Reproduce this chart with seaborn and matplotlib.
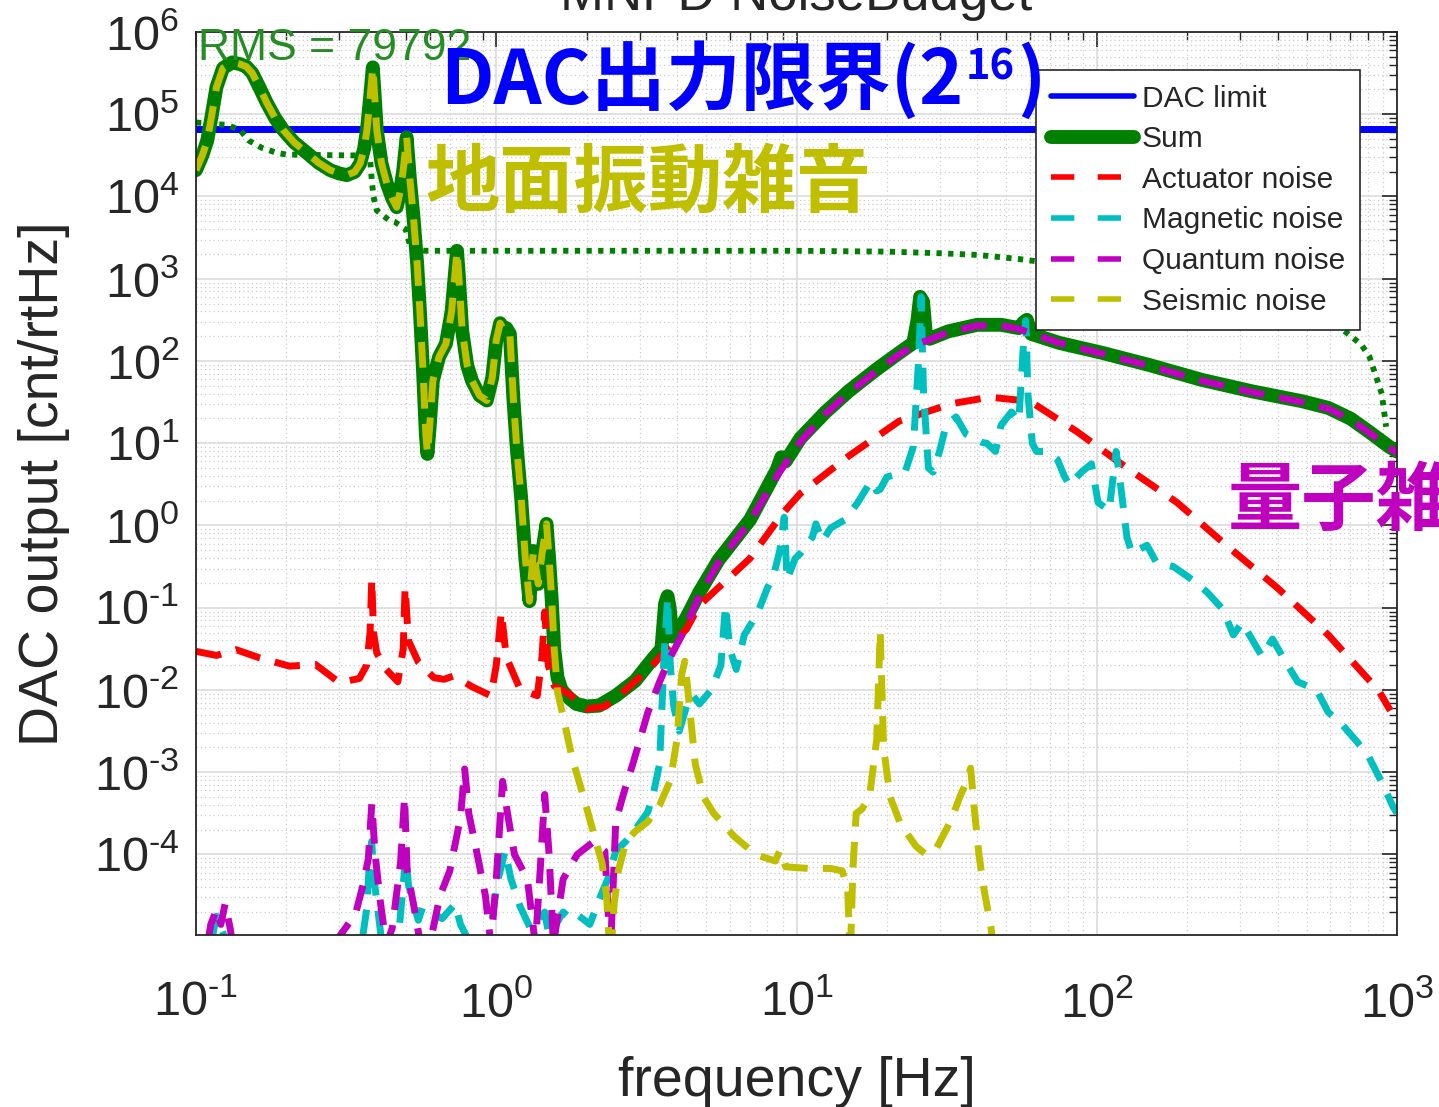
import numpy as np
import pandas as pd
import matplotlib
matplotlib.use("Agg")
import matplotlib.pyplot as plt
from matplotlib.lines import Line2D
from matplotlib.ticker import LogLocator, NullFormatter, FuncFormatter
import seaborn as sns

# ---------------- data (frequency in Hz, level as log10 of cnt/rtHz) ----------------
dac_limit = 65536
rms_value = 79792
x_range = [0.1, 1000.0]

sum_f = [0.100, 0.105, 0.109, 0.113, 0.117, 0.123, 0.132, 0.140, 0.147, 0.154,
         0.163, 0.172, 0.183, 0.195, 0.212, 0.234, 0.256, 0.280, 0.300, 0.318,
         0.338, 0.352, 0.363, 0.371, 0.380, 0.388, 0.394, 0.400, 0.415, 0.432,
         0.450, 0.466, 0.478, 0.490, 0.503, 0.516, 0.530, 0.545, 0.557, 0.570,
         0.583, 0.590, 0.600, 0.615, 0.645, 0.680, 0.710, 0.730, 0.740, 0.750,
         0.770, 0.800, 0.830, 0.880, 0.930, 0.970, 1.000, 1.030, 1.060, 1.080,
         1.110, 1.140, 1.170, 1.210, 1.250, 1.290, 1.310, 1.330, 1.360, 1.380,
         1.420, 1.470, 1.500, 1.530, 1.560, 1.600, 1.650, 1.750, 1.850, 2.000,
         2.200, 2.500, 2.900, 3.340, 3.550, 3.650, 3.720, 3.780, 3.850, 4.000,
         4.300, 4.750, 5.500, 7.000, 8.600, 8.900, 9.200, 10.30, 12.50, 15.00,
         18.50, 22.00, 24.50, 25.30, 25.80, 26.40, 27.00, 27.80, 32.00, 40.00,
         48.00, 55.00, 57.00, 58.50, 60.50, 75.00, 104.0, 150.0, 224.0, 330.0,
         484.0, 590.0, 700.0, 800.0, 940.0, 1000.0]
sum_lg = [4.32, 4.50, 4.68, 5.00, 5.33, 5.56, 5.63, 5.61, 5.58, 5.50,
          5.32, 5.14, 4.96, 4.81, 4.66, 4.53, 4.41, 4.32, 4.28, 4.26,
          4.30, 4.40, 4.58, 4.81, 5.20, 5.57, 5.20, 4.81, 4.40, 4.16,
          3.98, 3.87, 4.05, 4.32, 4.72, 4.20, 3.75, 3.19, 2.60, 1.90,
          1.10, 0.87, 1.20, 1.76, 2.05, 2.21, 2.60, 3.10, 3.34, 3.05,
          2.37, 1.95, 1.76, 1.58, 1.52, 1.80, 2.25, 2.46, 2.38, 2.40,
          2.33, 1.55, 0.95, 0.34, -0.40, -0.92, -0.60, -0.31, -0.55, -0.71,
          -0.35, 0.02, -0.40, -0.90, -1.50, -1.85, -2.00, -2.10, -2.17, -2.20,
          -2.19, -2.07, -1.89, -1.61, -1.50, -0.95, -0.86, -1.00, -1.35, -1.30,
          -1.12, -0.81, -0.42, 0.07, 0.68, 0.83, 0.78, 1.06, 1.38, 1.64,
          1.90, 2.10, 2.22, 2.50, 2.78, 2.72, 2.30, 2.27, 2.36, 2.44,
          2.44, 2.40, 2.47, 2.50, 2.33, 2.22, 2.10, 1.95, 1.77, 1.63,
          1.51, 1.43, 1.30, 1.15, 0.96, 0.90]

act_f = [0.100, 0.117, 0.136, 0.163, 0.205, 0.250, 0.300, 0.350, 0.370, 0.380,
         0.385, 0.390, 0.400, 0.430, 0.470, 0.490, 0.497, 0.510, 0.550, 0.620,
         0.670, 0.720, 0.780, 0.830, 0.960, 1.000, 1.040, 1.080, 1.200, 1.370,
         1.420, 1.450, 1.490, 1.560, 1.750, 2.000, 2.300, 2.600, 3.300, 3.700,
         4.300, 4.750, 7.000, 9.000, 10.30, 15.00, 22.00, 32.70, 44.00, 60.00,
         86.00, 126.0, 185.0, 270.0, 400.0, 590.0, 870.0, 950.0]
act_lg = [-1.53, -1.58, -1.51, -1.61, -1.71, -1.69, -1.91, -1.86, -1.70, -1.30,
          -0.65, -1.30, -1.55, -1.75, -1.90, -1.50, -0.75, -1.40, -1.66, -1.85,
          -1.87, -1.83, -1.90, -1.96, -2.07, -1.70, -1.05, -1.60, -1.99, -2.07,
          -1.60, -1.05, -1.70, -1.95, -2.05, -2.23, -2.20, -2.05, -1.71, -1.50,
          -1.26, -0.97, -0.40, 0.15, 0.39, 0.85, 1.27, 1.48, 1.56, 1.51,
          1.14, 0.70, 0.28, -0.24, -0.76, -1.33, -2.01, -2.25]

mag_f = [0.100, 0.112, 0.117, 0.123, 0.130, 0.330, 0.360, 0.370, 0.380, 0.385,
         0.390, 0.400, 0.420, 0.470, 0.500, 0.510, 0.550, 0.570, 0.620, 0.660,
         0.730, 0.760, 0.850, 0.950, 1.010, 1.070, 1.120, 1.200, 1.300, 1.450,
         1.500, 1.670, 1.770, 1.860, 2.050, 2.200, 2.350, 2.500, 2.700, 2.900,
         3.200, 3.350, 3.500, 3.620, 3.720, 3.800, 3.900, 4.070, 4.300, 4.500,
         4.750, 5.200, 5.600, 5.800, 6.000, 6.300, 6.700, 7.100, 7.500, 8.000,
         8.400, 8.800, 9.100, 9.300, 9.900, 10.30, 11.30, 11.60, 12.20, 13.00,
         14.50, 16.00, 17.70, 18.50, 19.00, 20.00, 23.00, 24.50, 25.50, 26.00,
         26.50, 27.50, 28.50, 30.00, 31.50, 34.00, 36.70, 41.50, 43.00, 46.00,
         48.00, 52.00, 55.00, 57.00, 58.00, 59.00, 61.00, 63.00, 68.00, 74.00,
         78.00, 81.00, 89.00, 96.00, 101.0, 110.0, 116.0, 120.0, 126.0, 131.0,
         147.0, 158.0, 180.0, 208.0, 233.0, 263.0, 285.0, 305.0, 355.0, 385.0,
         415.0, 467.0, 540.0, 590.0, 660.0, 740.0, 800.0, 900.0, 970.0, 1000.0]
mag_lg = [-5.50, -5.10, -4.75, -4.95, -5.40, -5.50, -4.97, -4.67, -3.96, -3.84,
          -4.24, -4.57, -5.20, -5.10, -4.00, -4.37, -4.80, -4.63, -4.72, -4.78,
          -4.60, -4.85, -5.20, -5.00, -4.33, -3.96, -4.30, -4.63, -4.90, -4.70,
          -5.00, -4.70, -4.78, -4.73, -4.85, -4.55, -4.30, -3.96, -3.84, -3.70,
          -3.48, -3.23, -2.90, -1.60, -0.88, -1.70, -2.20, -2.50, -2.20, -2.06,
          -2.17, -2.00, -1.70, -0.97, -1.50, -1.75, -1.33, -1.18, -1.02, -0.76,
          -0.60, -0.30, 0.10, -0.66, -0.40, -0.34, -0.14, 0.02, -0.19, -0.03,
          0.07, 0.28, 0.54, 0.42, 0.44, 0.59, 0.65, 0.96, 2.00, 2.78,
          1.60, 0.70, 0.65, 0.91, 1.22, 1.32, 1.11, 1.01, 1.00, 0.90,
          1.22, 1.38, 1.27, 2.20, 2.49, 1.60, 1.00, 0.90, 0.90, 0.80,
          0.60, 0.49, 0.65, 0.75, 0.28, 0.18, 0.90, 0.50, -0.14, -0.34,
          -0.24, -0.45, -0.50, -0.66, -0.81, -1.02, -1.33, -1.18, -1.59, -1.38,
          -1.59, -1.90, -2.00, -2.27, -2.43, -2.64, -2.79, -3.16, -3.42, -3.50]

qnt_f = [0.100, 0.108, 0.112, 0.117, 0.121, 0.125, 0.130, 0.135, 0.250, 0.300,
         0.340, 0.360, 0.375, 0.385, 0.395, 0.410, 0.430, 0.450, 0.480, 0.495,
         0.505, 0.530, 0.560, 0.600, 0.650, 0.700, 0.760, 0.785, 0.810, 0.860,
         0.920, 0.960, 1.000, 1.050, 1.090, 1.150, 1.270, 1.350, 1.400, 1.450,
         1.500, 1.550, 1.670, 1.860, 2.100, 2.300, 2.400, 2.500, 2.650, 2.850,
         3.000, 3.200, 3.500, 3.800, 4.200, 4.750, 5.500, 7.000, 8.600, 10.30,
         12.50, 15.00, 18.50, 22.00, 25.00, 27.80, 32.00, 40.00, 48.00, 55.00,
         60.00, 75.00, 104.0, 150.0, 224.0, 330.0, 484.0, 590.0, 700.0, 800.0,
         940.0, 1000.0]
qnt_lg = [-5.50, -5.20, -4.85, -4.67, -4.85, -4.60, -4.90, -5.30, -5.50, -5.00,
          -4.72, -4.37, -4.05, -3.38, -4.00, -4.54, -5.10, -4.90, -4.10, -3.30,
          -4.20, -4.60, -5.10, -5.10, -4.50, -4.20, -3.55, -2.96, -3.50, -3.96,
          -4.50, -5.10, -4.30, -3.11, -3.50, -4.00, -4.30, -5.10, -4.20, -3.27,
          -4.00, -5.10, -4.30, -4.00, -3.85, -3.96, -5.20, -3.60, -3.27, -2.90,
          -2.62, -2.27, -1.90, -1.60, -1.30, -0.85, -0.45, 0.05, 0.60, 1.02,
          1.36, 1.62, 1.88, 2.08, 2.20, 2.26, 2.35, 2.43, 2.43, 2.39,
          2.34, 2.22, 2.09, 1.94, 1.76, 1.62, 1.50, 1.42, 1.29, 1.14,
          0.95, 0.88]

# seismic noise: identical to the sum below ~1.55 Hz, then its own branch
seis_hi_f = [1.560, 1.600, 1.700, 1.790, 1.900, 2.020, 2.150, 2.250, 2.330, 2.400,
             2.470, 2.550, 2.700, 2.900, 3.200, 3.500, 3.800, 4.000, 4.150, 4.250,
             4.400, 4.600, 4.900, 5.300, 6.200, 7.300, 8.500, 8.800, 9.200, 11.00,
             13.00, 14.20, 14.80, 15.10, 15.40, 15.80, 16.50, 17.50, 18.50, 19.00,
             19.50, 20.50, 22.20, 25.00, 27.00, 29.00, 31.00, 33.00, 35.00, 37.00,
             38.00, 39.00, 40.50, 42.00, 44.50, 46.00]
seis_hi_lg = [-1.50, -2.02, -2.45, -2.83, -3.15, -3.49, -3.85, -4.10, -4.50, -5.30,
              -4.60, -4.20, -3.85, -3.72, -3.60, -3.40, -3.10, -2.60, -1.80, -1.65,
              -2.20, -2.90, -3.30, -3.50, -3.78, -4.00, -4.08, -3.95, -4.15, -4.17,
              -4.17, -4.20, -4.40, -5.30, -4.20, -3.50, -3.45, -3.30, -2.60, -1.28,
              -2.70, -3.30, -3.63, -3.90, -4.00, -3.95, -3.75, -3.55, -3.30, -3.10,
              -2.95, -3.40, -4.00, -4.40, -4.90, -5.50]
seis_f = sum_f[:74] + seis_hi_f
seis_lg = sum_lg[:74] + seis_hi_lg

rms_f = [0.100, 0.127, 0.140, 0.150, 0.166, 0.186, 0.200, 0.320, 0.360, 0.380,
         0.385, 0.390, 0.400, 0.440, 0.460, 0.500, 0.520, 0.580, 1.000, 10.00,
         20.00, 30.00, 40.00, 55.00, 100.0, 200.0, 400.0, 640.0, 760.0, 810.0,
         890.0, 920.0]
rms_lg = [4.90, 4.87, 4.81, 4.68, 4.59, 4.53, 4.51, 4.50, 4.50, 4.45,
          4.20, 4.00, 3.83, 3.71, 3.69, 3.60, 3.36, 3.34, 3.34, 3.34,
          3.33, 3.31, 3.29, 3.24, 3.12, 3.00, 2.80, 2.42, 2.20, 2.05,
          1.60, 1.20]

legend_labels = ["DAC limit", "Sum", "Actuator noise", "Magnetic noise",
                 "Quantum noise", "Seismic noise"]

# ---------------- styling ----------------
sns.set_theme(style="white")
plt.rcParams['font.family'] = ['Liberation Sans', 'Noto Sans CJK JP', 'DejaVu Sans']
plt.rcParams['mathtext.fontset'] = 'custom'
plt.rcParams['mathtext.rm'] = 'Liberation Sans'
plt.rcParams['mathtext.it'] = 'Liberation Sans:italic'
plt.rcParams['mathtext.bf'] = 'Liberation Sans:bold'
plt.rcParams['axes.unicode_minus'] = False

C_BLUE = (0.0, 0.0, 1.0)
C_GREEN = (0.0, 0.5, 0.0)
C_RED = (1.0, 0.0, 0.0)
C_CYAN = (0.0, 0.75, 0.75)
C_MAG = (0.75, 0.0, 0.75)
C_YEL = (0.75, 0.75, 0.0)
C_AX = '#262626'

W, H = 1439, 1107
fig = plt.figure(figsize=(W / 100, H / 100), dpi=100)
fig.patch.set_facecolor('white')
ax = fig.add_axes([196 / W, 1 - 935 / H, 1201 / W, 903 / H])
ax.set_xscale('log')
ax.set_yscale('log')


def draw(f, lg, color, lw, dashes=None, zorder=2):
    df = pd.DataFrame({'f': f, 'v': 10.0 ** np.asarray(lg, dtype=float)})
    sns.lineplot(data=df, x='f', y='v', ax=ax, estimator=None, sort=False,
                 legend=False, color=color, lw=lw, zorder=zorder)
    ln = ax.lines[-1]
    ln.set_solid_joinstyle('round')
    ln.set_solid_capstyle('round')
    if dashes is not None:
        ln.set_dashes(dashes)
        ln.set_dash_capstyle('butt')
    return ln


DASH = (3.7, 2.2)
draw(x_range, [np.log10(dac_limit)] * 2, C_BLUE, 5.0, zorder=2)
draw(rms_f, rms_lg, C_GREEN, 4.2, dashes=(0.9, 1.1), zorder=2.5)
draw(sum_f, sum_lg, C_GREEN, 10.0, zorder=3)
draw(act_f, act_lg, C_RED, 5.0, dashes=DASH, zorder=4)
draw(mag_f, mag_lg, C_CYAN, 5.0, dashes=DASH, zorder=5)
draw(qnt_f, qnt_lg, C_MAG, 5.0, dashes=DASH, zorder=6)
draw(seis_f, seis_lg, C_YEL, 5.0, dashes=DASH, zorder=7)

ax.set_xlim(0.1, 1000)
ax.set_ylim(1.05e-5, 1e6)


def decade_label(v, pos):
    e = int(round(np.log10(v)))
    if e < 0:
        return r'$\mathdefault{10^{\text{-}%d}}$' % abs(e)
    return r'$\mathdefault{10^{%d}}$' % e


ax.xaxis.set_major_locator(LogLocator(base=10, numticks=20))
ax.yaxis.set_major_locator(LogLocator(base=10, numticks=30))
ax.xaxis.set_minor_locator(LogLocator(base=10, subs=np.arange(2, 10), numticks=100))
ax.yaxis.set_minor_locator(LogLocator(base=10, subs=np.arange(2, 10), numticks=200))
ax.xaxis.set_major_formatter(FuncFormatter(decade_label))
ax.yaxis.set_major_formatter(FuncFormatter(decade_label))
ax.xaxis.set_minor_formatter(NullFormatter())
ax.yaxis.set_minor_formatter(NullFormatter())

ax.set_axisbelow(True)
ax.grid(True, which='major', color='#dcdcdc', lw=1.2, ls='-')
ax.grid(True, which='minor', color='#cccccc', lw=0.9, ls=(0, (1, 2.4)))
for s in ax.spines.values():
    s.set_color(C_AX)
    s.set_linewidth(1.3)
    s.set_zorder(10)
ax.tick_params(which='both', direction='in', top=True, right=True,
               color=C_AX, labelcolor=C_AX)
ax.tick_params(which='major', length=11, width=1.2, labelsize=35)
ax.tick_params(which='minor', length=5.5, width=1.0)
ax.tick_params(axis='x', which='major', pad=33)
ax.tick_params(axis='y', which='major', pad=12)

ax.set_xlabel('frequency [Hz]', fontsize=40, color=C_AX)
ax.set_ylabel('DAC output [cnt/rtHz]', fontsize=40, color=C_AX)
ax.xaxis.set_label_coords(0.5, (935 - 1056) / 903)
ax.xaxis.label.set_va('top')
ax.yaxis.set_label_coords((70 - 196) / 1201, 0.5)

# legend (MATLAB-like dashed handles)
proxies = [
    Line2D([], [], color=C_BLUE, lw=4.0),
    Line2D([], [], color=C_GREEN, lw=10.0),
    Line2D([], [], color=C_RED, lw=4.0, dashes=(4.2, 4.2)),
    Line2D([], [], color=C_CYAN, lw=4.0, dashes=(4.2, 4.2)),
    Line2D([], [], color=C_MAG, lw=4.0, dashes=(4.2, 4.2)),
    Line2D([], [], color=C_YEL, lw=4.0, dashes=(4.2, 4.2)),
]
leg = ax.legend(proxies, legend_labels, loc='upper right',
                bbox_to_anchor=(0.969, 0.958), fontsize=21.5, frameon=True,
                fancybox=False, framealpha=1, edgecolor=C_AX,
                borderpad=0.5, labelspacing=0.42, handlelength=2.75,
                handletextpad=0.27, borderaxespad=0)
leg.get_frame().set_linewidth(1.2)
leg.set_zorder(20)
for t in leg.get_texts():
    t.set_color(C_AX)

# title (cut off at the top of the image, as in the original)
fig.text(796 / W, 1 - 10 / H, 'MNPD NoiseBudget', fontsize=38, color=C_AX,
         ha='center', va='baseline')

# annotations
fig.text(198 / W, 1 - 60 / H, f'RMS = {rms_value}', fontsize=32,
         color=(0.15, 0.55, 0.15), ha='left', va='baseline', zorder=30)

cjk = ['Noto Sans CJK JP']
t_dac = fig.text(440 / W, 1 - 104 / H, 'DAC出力限界(2', fontsize=54,
                 fontweight='bold', family=cjk, color=C_BLUE,
                 ha='left', va='baseline', zorder=30)
fig.canvas.draw()
bb = t_dac.get_window_extent(fig.canvas.get_renderer())
t_sup = fig.text(bb.x1 / W + 2 / W, 1 - 80 / H, '16', fontsize=30,
                 fontweight='bold', family=cjk, color=C_BLUE,
                 ha='left', va='baseline', zorder=30)
fig.canvas.draw()
bb2 = t_sup.get_window_extent(fig.canvas.get_renderer())
fig.text(bb2.x1 / W + 3 / W, 1 - 104 / H, ')', fontsize=54,
         fontweight='bold', family=cjk, color=C_BLUE,
         ha='left', va='baseline', zorder=30)

fig.text(425 / W, 1 - 206 / H, '地面振動雑音', fontsize=53.5,
         fontweight='bold', family=cjk, color=C_YEL,
         ha='left', va='baseline', zorder=30)
fig.text(1228 / W, 1 - 524 / H, '量子雑音', fontsize=53.5,
         fontweight='bold', family=cjk, color=C_MAG,
         ha='left', va='baseline', zorder=30)

fig.savefig('out.png', dpi=100, facecolor='white')
